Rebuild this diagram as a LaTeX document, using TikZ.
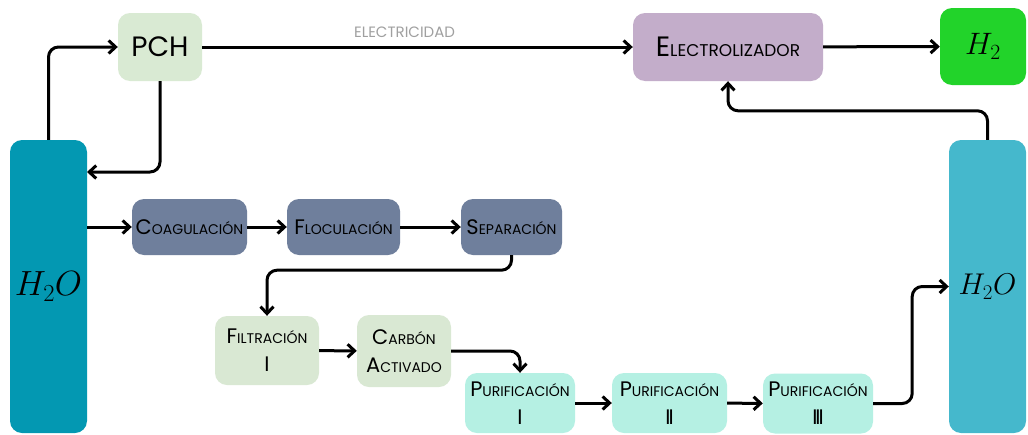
\documentclass[tikz,border=0pt]{standalone}
\usepackage{fix-cm}
\usepackage{fontspec}
\setmainfont{Poppins}
\usepackage{xcolor}
\usepackage{tikz}
\usetikzlibrary{arrows.meta}

\definecolor{aguaA}{HTML}{0398B2}
\definecolor{aguaB}{HTML}{45B8CC}
\definecolor{pchc}{HTML}{D9EAD3}
\definecolor{elecc}{HTML}{C3ADCA}
\definecolor{hidro}{HTML}{22D32A}
\definecolor{pretrat}{HTML}{6F7F9C}
\definecolor{filtro}{HTML}{D9E8D3}
\definecolor{purif}{HTML}{B5F0E3}
\definecolor{etiq}{HTML}{A0A0A0}

% small caps by hand: big first letter, smaller capitals after it
\newcommand{\scw}[2]{{\fontsize{21}{28}\selectfont #1}{\fontsize{14}{28}\selectfont #2}}
\newcommand{\scwbig}[2]{{\fontsize{28}{28}\selectfont #1}{\fontsize{17}{28}\selectfont #2}}

\begin{document}
\begin{tikzpicture}[
    x=1pt, y=-1pt,
    >={Straight Barb[length=7pt,width=13pt]},
    box/.style={rounded corners=12pt, inner sep=0pt, align=center, font=\fontsize{14}{28}\selectfont},
    flow/.style={->, line width=3pt, rounded corners=10pt}
]
    \path[use as bounding box, fill=white] (0,0) rectangle (1028,434);

    \node[box, fill=aguaA, minimum width=77pt, minimum height=293pt] (aguaIn) at (48.5,286.5) {\fontsize{35}{35}\selectfont$H_2O$};
    \node[box, fill=pchc, minimum width=84pt, minimum height=68pt] (pch) at (160,47) {\fontsize{28}{28}\selectfont PCH};
    \node[box, fill=elecc, minimum width=190pt, minimum height=68pt] (elec) at (728,47) {\scwbig{E}{LECTROLIZADOR}};
    \node[box, fill=hidro, minimum width=86pt, minimum height=77pt] (h2) at (983,46.5) {\fontsize{31}{31}\selectfont$H_2$};
    \node[box, fill=aguaB, minimum width=77pt, minimum height=293pt] (aguaOut) at (987.5,286.5) {\fontsize{30}{30}\selectfont$H_2O$};

    \node[box, fill=pretrat, minimum width=115pt, minimum height=56pt] (coag) at (189.5,227) {\scw{C}{OAGULACIÓN}};
    \node[box, fill=pretrat, minimum width=113pt, minimum height=56pt] (floc) at (343.5,227) {\scw{F}{LOCULACIÓN}};
    \node[box, fill=pretrat, minimum width=101pt, minimum height=56pt] (sep) at (511.5,227) {\scw{S}{EPARACIÓN}};

    \node[box, fill=filtro, minimum width=104pt, minimum height=69pt] (filt) at (267,350.5) {\scw{F}{ILTRACIÓN}\\\scw{I}{}};
    \node[box, fill=filtro, minimum width=94pt, minimum height=72pt] (carb) at (404,351) {\scw{C}{ARBÓN}\\\scw{A}{CTIVADO}};

    \node[box, fill=purif, minimum width=110pt, minimum height=60pt] (pur1) at (520,403) {\scw{P}{URIFICACIÓN}\\\scw{I}{}};
    \node[box, fill=purif, minimum width=115pt, minimum height=60pt] (pur2) at (669.5,403) {\scw{P}{URIFICACIÓN}\\\scw{I\kern-2pt I}{}};
    \node[box, fill=purif, minimum width=110pt, minimum height=60pt] (pur3) at (818,403.5) {\scw{P}{URIFICACIÓN}\\\scw{I\kern-2pt I\kern-2pt I}{}};

    \coordinate (retorno) at (87,172);

    \draw[flow] (aguaIn.north) |- (pch.west);
    \draw[flow] (pch.south) |- (retorno);
    \draw[flow] (pch) -- node[pos=0.47, above=8pt, inner sep=0pt, font=\fontsize{15}{15}\selectfont, text=etiq] {ELECTRICIDAD} (elec);
    \draw[flow] (elec) -- (h2);
    \draw[flow] (aguaOut.north) -- ++(0,-29) -| (elec.south);

    \draw[flow] (aguaIn.east |- coag.west) -- (coag.west);
    \draw[flow] (coag) -- (floc);
    \draw[flow] (floc) -- (sep);
    \draw[flow] (sep.south) -- ++(0,15) -| (filt.north);
    \draw[flow] (filt) -- (carb);
    \draw[flow] (carb.east) -| (pur1.north);
    \draw[flow] (pur1) -- (pur2);
    \draw[flow] (pur2) -- (pur3);
    \draw[flow] (pur3.east) -- ++(39,0) |- (aguaOut.west);
\end{tikzpicture}
\end{document}
